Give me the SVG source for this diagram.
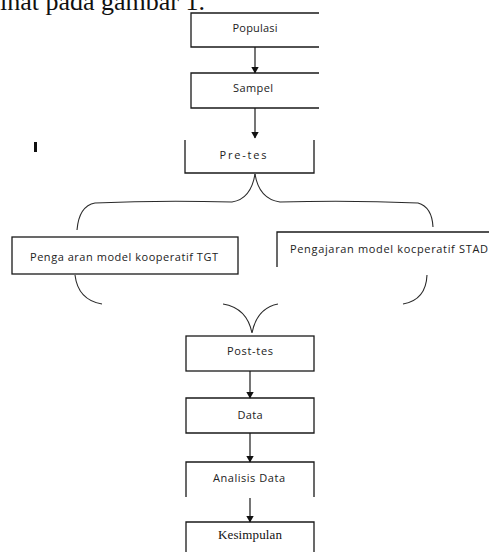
<svg xmlns="http://www.w3.org/2000/svg" width="489" height="552" viewBox="0 0 489 552">
<style>
.box{fill:none;stroke:#1a1a1a;stroke-width:1.3}
.ln{fill:none;stroke:#1a1a1a;stroke-width:1.2}
.br{fill:none;stroke:#2a2a2a;stroke-width:1.1}
.t{font-family:"Open Sans","Liberation Sans",sans-serif;font-size:11px;fill:#222;text-anchor:middle}
.s{font-family:"Liberation Serif",serif;fill:#111}
</style>
<defs>
<marker id="ah" markerWidth="7" markerHeight="8" refX="6.5" refY="4" orient="auto" markerUnits="userSpaceOnUse">
<path d="M0,0 L7,4 L0,8 Z" fill="#111"/>
</marker>
</defs>
<rect width="489" height="552" fill="#fff"/>
<text class="s" x="0" y="9.5" font-size="26">ihat pada gambar 1.</text>
<rect x="34" y="142" width="3" height="10" fill="#111"/>

<g id="populasi">
<path class="box" d="M319,13 H191 V47 H319"/>
<text class="t" x="255" y="32" textLength="45">Populasi</text>
</g>
<g id="sampel">
<path class="box" d="M319,73 H191 V108 H319"/>
<text class="t" x="253" y="92" textLength="40">Sampel</text>
</g>
<g id="pretes">
<path class="box" d="M185,140 V173 H314 V140"/>
<text class="t" x="243" y="159" textLength="47">Pre-tes</text>
</g>
<g id="tgt">
<rect class="box" x="12" y="237" width="226" height="37"/>
<text class="t" x="124" y="261" textLength="188">Penga aran model kooperatif  TGT</text>
</g>
<g id="stad">
<path class="box" d="M277,267 V232 H489"/>
<text class="t" x="389" y="253" textLength="198">Pengajaran model kocperatif  STAD</text>
</g>
<g id="posttes">
<rect class="box" x="186" y="336" width="128" height="35"/>
<text class="t" x="250" y="355" textLength="46">Post-tes</text>
</g>
<g id="data">
<path class="box" d="M186,433 V398 H314 V433 Z"/>
<text class="t" x="250" y="419" textLength="25">Data</text>
</g>
<g id="analisis">
<path class="box" d="M186,497 V462 H314 V497"/>
<text class="t" x="249" y="482" textLength="72">Analisis Data</text>
</g>
<g id="kesimpulan">
<path class="box" d="M186,552 V522 H314 V552"/>
<text class="s" x="250" y="539" font-size="13" text-anchor="middle" textLength="64">Kesimpulan</text>
</g>

<g id="connectors">
<line class="ln" x1="255" y1="47" x2="255" y2="73" marker-end="url(#ah)"/>
<line class="ln" x1="255" y1="108" x2="255" y2="138" marker-end="url(#ah)"/>
<line class="ln" x1="250" y1="371" x2="250" y2="398" marker-end="url(#ah)"/>
<line class="ln" x1="250" y1="433" x2="250" y2="462" marker-end="url(#ah)"/>
<line class="ln" x1="250" y1="498" x2="250" y2="522" marker-end="url(#ah)"/>
<path class="br" d="M255,174 Q251,199 232,202 Q160,200 95,203 Q79,206 77,230"/>
<path class="br" d="M255,174 Q259,199 280,202 Q350,200 418,203 Q432,207 433,227"/>
<path class="br" d="M75,275 Q78,300 102,304"/>
<path class="br" d="M427,275 Q426,300 403,304"/>
<path class="br" d="M223,304 Q247,308 252,333 Q257,308 278,304"/>
</g>
</svg>
